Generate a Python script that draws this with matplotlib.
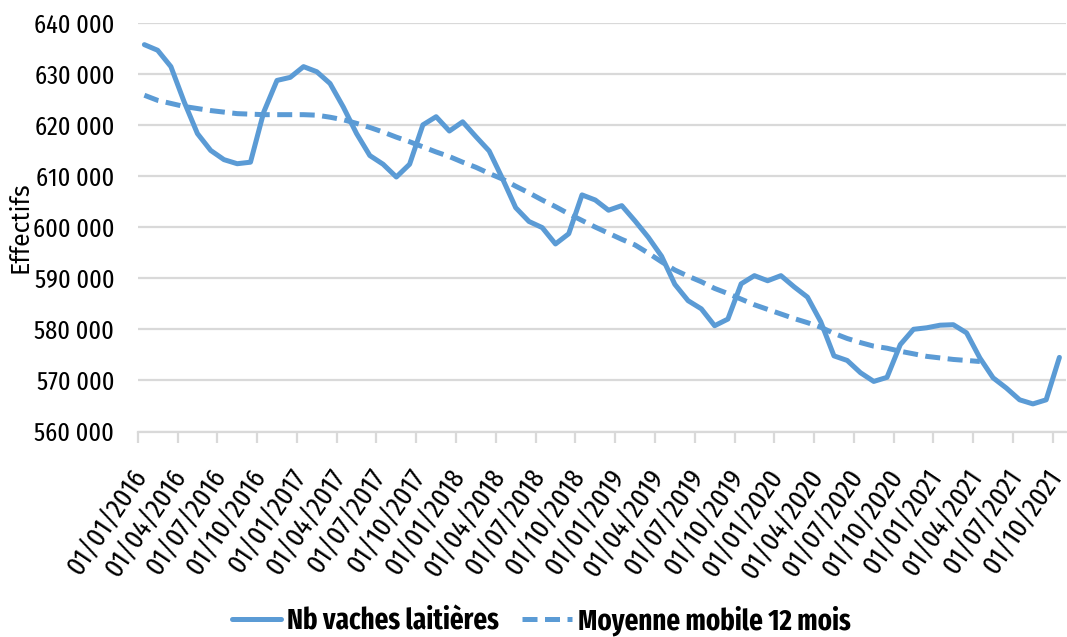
import matplotlib
matplotlib.use("Agg")
import matplotlib.pyplot as plt
import matplotlib.transforms as mtransforms
from matplotlib.ticker import FuncFormatter

# données (milliers de têtes)
mois = ["01/01/2016", "01/04/2016", "01/07/2016", "01/10/2016",
        "01/01/2017", "01/04/2017", "01/07/2017", "01/10/2017",
        "01/01/2018", "01/04/2018", "01/07/2018", "01/10/2018",
        "01/01/2019", "01/04/2019", "01/07/2019", "01/10/2019",
        "01/01/2020", "01/04/2020", "01/07/2020", "01/10/2020",
        "01/01/2021", "01/04/2021", "01/07/2021", "01/10/2021"]

vaches = [635.7, 634.6, 631.4, 624.5, 618.3, 615.0, 613.2, 612.4, 612.7, 622.5,
          628.7, 629.3, 631.4, 630.4, 628.1, 623.5, 618.3, 614.0, 612.3, 609.8,
          612.3, 620.0, 621.6, 618.8, 620.6, 617.7, 614.9, 609.5, 603.8, 601.1,
          599.9, 596.7, 598.7, 606.3, 605.3, 603.3, 604.2, 601.2, 598.0, 594.3,
          588.8, 585.6, 584.0, 580.7, 582.0, 588.9, 590.5, 589.5, 590.5, 588.3,
          586.3, 581.5, 574.8, 573.9, 571.5, 569.8, 570.6, 577.0, 580.0, 580.3,
          580.8, 580.9, 579.3, 574.4, 570.5, 568.5, 566.2, 565.4, 566.2, 574.5]

moyenne = [625.8, 624.8, 624.2, 623.6, 623.2, 622.8, 622.5, 622.2, 622.1, 622.0,
           622.0, 622.0, 622.0, 621.9, 621.5, 621.0, 620.3, 619.5, 618.6, 617.6,
           616.7, 615.7, 614.7, 613.8, 612.7, 611.7, 610.5, 609.4, 608.0, 606.7,
           605.3, 604.0, 602.6, 601.3, 600.0, 598.8, 597.6, 596.5, 594.9, 593.2,
           591.6, 590.4, 589.3, 588.0, 587.0, 585.9, 584.8, 583.9, 583.0, 582.1,
           581.3, 580.4, 579.2, 578.2, 577.4, 576.7, 576.3, 575.7, 575.2, 574.7,
           574.4, 574.1, 573.9, 573.7]

bleu = "#5B9BD5"
gris = "#D9D9D9"
narrow = ["Fira Sans Extra Condensed", "Roboto Condensed", "DejaVu Sans"]

fig = plt.figure(figsize=(10.67, 6.37), dpi=100)
ax = fig.add_axes([0.1291, 0.3226, 0.870, 0.6418])

x1 = [i * 1000 for i in vaches]
ax.plot(range(len(vaches)), x1, color=bleu, lw=3.6, solid_joinstyle="round",
        solid_capstyle="round", label="Nb vaches laitières")
x2 = [i * 1000 for i in moyenne]
ax.plot(range(len(moyenne)), x2, color=bleu, lw=3.6, dashes=(3.0, 1.5),
        label="Moyenne mobile 12 mois")

ax.set_xlim(-0.5, len(vaches) - 0.5)
ax.set_ylim(560000, 640000)
ax.set_yticks(range(560000, 640001, 10000))
ax.yaxis.set_major_formatter(FuncFormatter(lambda v, p: f"{int(v):,}".replace(",", " ")))
ax.grid(axis="y", color=gris, lw=1.6)
ax.set_axisbelow(True)
for s in ["left", "right", "top"]:
    ax.spines[s].set_visible(False)
ax.spines["bottom"].set_color(gris)
ax.spines["bottom"].set_linewidth(1.6)

ax.tick_params(axis="y", length=0, pad=17)
for t in ax.get_yticklabels():
    t.set_fontfamily(narrow)
    t.set_fontsize(19)

pos = [3 * k - 0.5 for k in range(len(mois))]
ax.set_xticks(pos)
ax.set_xticklabels(mois, rotation=56, ha="right", va="center",
                   rotation_mode="anchor", fontsize=20.5, family=narrow)
ax.tick_params(axis="x", length=8, width=1.6, color=gris, pad=21)
dx = mtransforms.ScaledTranslation(0.035, 0, fig.dpi_scale_trans)
for t in ax.get_xticklabels():
    t.set_transform(t.get_transform() + dx)

ax.set_ylabel("Effectifs", fontsize=18, family=["Fira Sans", "DejaVu Sans"])
ax.yaxis.set_label_coords(-0.113, 0.5)

leg = fig.legend(loc="center", bbox_to_anchor=(0.507, 0.026), ncol=2, frameon=False,
                 handlelength=1.7, handletextpad=0.2, columnspacing=0.8,
                 prop={"family": narrow, "size": 21, "weight": "bold"})

fig.savefig("out.png", dpi=100)
